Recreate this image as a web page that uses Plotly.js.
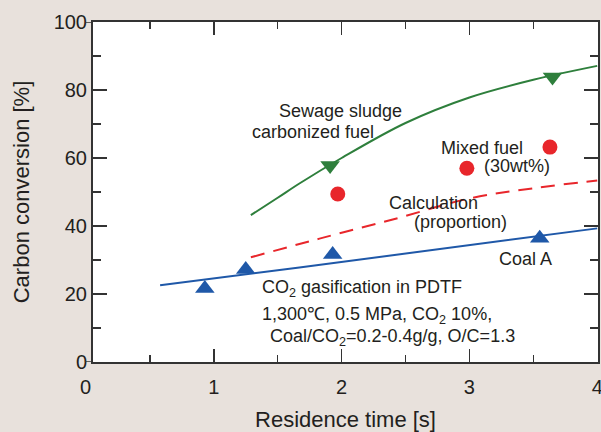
<!DOCTYPE html>
<html>
<head>
<meta charset="utf-8">
<script src="https://cdn.plot.ly/plotly-3.0.1.min.js"></script>
<style>html,body{margin:0;padding:0;background:#E8E1DC;}#chart{width:601px;height:432px;}</style>
</head>
<body>
<div id="chart"></div>
<script>
// Coal A (CO2 gasification) measured points and fitted line
const coalX = [0.93, 1.25, 1.93, 3.55];
const coalY = [21.6, 27.2, 31.6, 36.4];
const coalLineX = [0.58, 1.67, 4.0];
const coalLineY = [22.6, 27.8, 39.3];

// Sewage sludge carbonized fuel
const sludgeX = [1.91, 3.65];
const sludgeY = [57.8, 83.8];
const sludgeLineX = [1.29, 1.5, 1.67, 2.0, 2.5, 3.0, 3.5, 4.0];
const sludgeLineY = [43.2, 48.3, 52.5, 60.0, 70.3, 77.8, 83.0, 87.1];

// Mixed fuel (30wt%)
const mixedX = [1.97, 2.98, 3.63];
const mixedY = [49.4, 57.0, 63.2];

// Calculation (proportion)
const calcX = [1.29, 1.67, 2.0, 2.4, 3.0, 3.5, 4.0];
const calcY = [30.8, 34.7, 38.0, 41.9, 48.1, 51.1, 53.4];

const xTickVals = [1, 2, 3, 4];
const xTickText = ['1', '2', '3', '4'];
const yTickVals = [0, 20, 40, 60, 80, 100];

const GREEN = '#2E7F3C', BLUE = '#1F58A8', RED = '#E8262B', INK = '#231F20';
const FONT = 'Arial, "Liberation Sans", Helvetica, sans-serif';

const traces = [
  {x: sludgeLineX, y: sludgeLineY, mode: 'lines', line: {color: GREEN, width: 2, shape: 'spline'}, hoverinfo: 'skip'},
  {x: calcX, y: calcY, mode: 'lines', line: {color: RED, width: 2, dash: '14px,9px', shape: 'spline'}, hoverinfo: 'skip'},
  {x: coalLineX, y: coalLineY, mode: 'lines', line: {color: BLUE, width: 2, shape: 'spline'}, hoverinfo: 'skip'},
  {x: coalX, y: coalY, mode: 'markers', marker: {symbol: 'triangle-up', size: 17, color: BLUE}},
  {x: sludgeX, y: sludgeY, mode: 'markers', marker: {symbol: 'triangle-down', size: 17, color: GREEN}},
  {x: mixedX, y: mixedY, mode: 'markers', marker: {symbol: 'circle', size: 15, color: RED}}
];

function note(text, x, y, anchor) {
  return {text: text, x: x, y: y, xref: 'x', yref: 'y', showarrow: false,
          xanchor: anchor || 'center', yanchor: 'middle',
          font: {family: FONT, size: 18, color: INK}};
}

const annotations = [
  note('Sewage sludge', 1.99, 73.8),
  note('carbonized fuel', 1.78, 67.6),
  note('Mixed fuel', 3.10, 62.9),
  note('(30wt%)', 3.37, 57.6),
  note('Calculation', 2.72, 46.8),
  note('(proportion)', 2.93, 41.2),
  note('Coal A', 3.44, 30.3),
  note('CO<sub>2</sub> gasification in PDTF', 1.36, 21.5, 'left'),
  note('1,300℃, 0.5 MPa, CO<sub>2</sub> 10%,', 1.36, 13.8, 'left'),
  note('Coal/CO<sub>2</sub>=0.2-0.4g/g, O/C=1.3', 1.424, 7.1, 'left'),
  {text: '0', xref: 'paper', yref: 'paper', x: -0.0139, y: -0.073, showarrow: false,
   xanchor: 'center', yanchor: 'middle', font: {family: FONT, size: 20, color: INK}}
];

const layout = {
  width: 601, height: 432,
  margin: {l: 93, r: 3, t: 22, b: 70},
  paper_bgcolor: '#E8E1DC',
  plot_bgcolor: '#FFFFFF',
  showlegend: false,
  font: {family: FONT, color: INK},
  xaxis: {
    range: [0.055, 4.006], tickvals: xTickVals, ticktext: xTickText,
    ticks: 'inside', ticklen: 13, tickwidth: 1.5, tickcolor: '#333',
    minor: {dtick: 0.5, tick0: 0, ticks: 'inside', ticklen: 7, tickwidth: 1.5, tickcolor: '#333'},
    showline: true, linecolor: '#333', linewidth: 2, mirror: 'ticks',
    showgrid: false, zeroline: false,
    ticklabeloverflow: 'allow', ticklabelstandoff: 6,
    tickfont: {family: FONT, size: 20, color: INK},
    title: {text: 'Residence time [s]', font: {family: FONT, size: 22, color: INK}, standoff: 16}
  },
  yaxis: {
    range: [0, 100], tickvals: yTickVals,
    ticks: 'inside', ticklen: 14, tickwidth: 1.5, tickcolor: '#333',
    minor: {dtick: 10, tick0: 0, ticks: 'inside', ticklen: 8, tickwidth: 1.5, tickcolor: '#333'},
    showline: true, linecolor: '#333', linewidth: 2, mirror: 'ticks',
    showgrid: false, zeroline: false,
    tickfont: {family: FONT, size: 20, color: INK},
    title: {text: 'Carbon conversion [%]', font: {family: FONT, size: 22, color: INK}, standoff: 18}
  },
  shapes: [
    {type: 'line', xref: 'paper', yref: 'y', x0: -0.016, x1: 0, y0: 0, y1: 0, line: {color: '#333', width: 1.5}},
    {type: 'line', xref: 'paper', yref: 'y', x0: -0.016, x1: 0, y0: 100, y1: 100, line: {color: '#333', width: 1.5}}
  ],
  annotations: annotations
};

Plotly.newPlot('chart', traces, layout, {staticPlot: true, displayModeBar: false});
</script>
</body>
</html>
